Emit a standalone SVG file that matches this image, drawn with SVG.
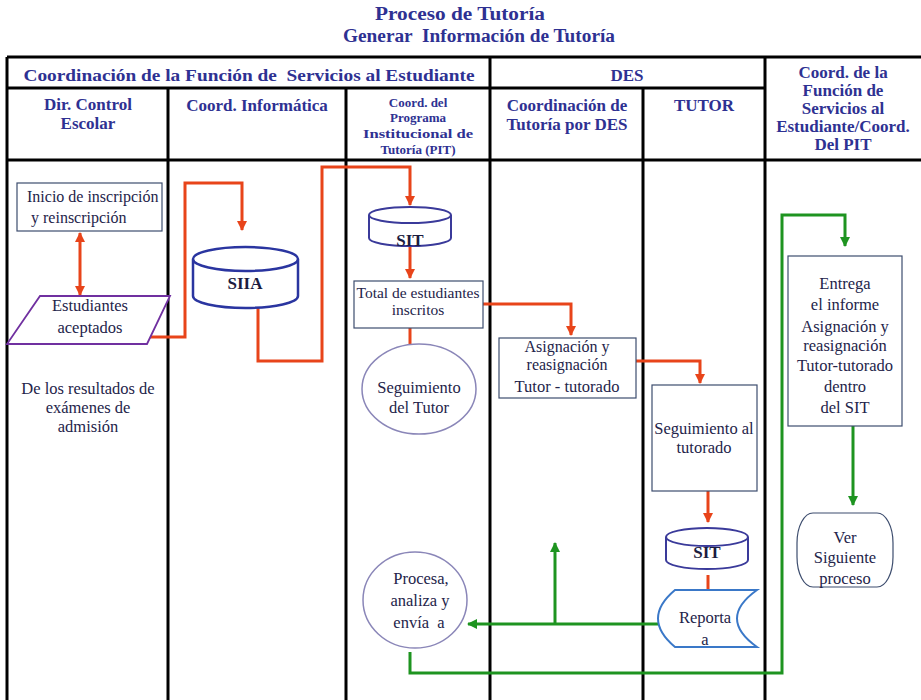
<svg xmlns="http://www.w3.org/2000/svg" width="921" height="700" viewBox="0 0 921 700">
<style>
.grid{stroke:#000;stroke-width:3;fill:none}
text{font-family:'Liberation Serif','DejaVu Serif','Noto Serif',serif}
.ttl{font-weight:bold;fill:#2E3192;text-anchor:middle}
.hd{font-weight:bold;fill:#2E3192;text-anchor:middle;font-size:17px}
.sm{font-size:13px}
.tx{fill:#24244a;font-size:16.5px;text-anchor:middle}
.box{fill:#fff;stroke:#3d4d6e;stroke-width:1.2}
.ell{fill:#fff;stroke:#8a86b8;stroke-width:1.5}
.cyl{fill:#fff;stroke:#2a35a0;stroke-width:2.5}
.red{stroke:#E8441A;stroke-width:3;fill:none}
.grn{stroke:#1E9420;stroke-width:3;fill:none}
.db{font-weight:bold;fill:#1c1c40;text-anchor:middle;font-size:17px}
</style>
<defs>
<marker id="ar" viewBox="0 0 10 10" refX="9" refY="5" markerWidth="10" markerHeight="10" markerUnits="userSpaceOnUse" orient="auto-start-reverse"><path d="M0,0 L10,5 L0,10 Z" fill="#E8441A"/></marker>
<marker id="ag" viewBox="0 0 10 10" refX="9" refY="5" markerWidth="10" markerHeight="10" markerUnits="userSpaceOnUse" orient="auto"><path d="M0,0 L10,5 L0,10 Z" fill="#1E9420"/></marker>
</defs>
<rect width="921" height="700" fill="#fff"/>
<g id="title">
<text class="ttl" x="460" y="20" font-size="18" textLength="170" lengthAdjust="spacingAndGlyphs">Proceso de Tutoría</text>
<text class="ttl" x="479" y="42" font-size="18" textLength="272" lengthAdjust="spacingAndGlyphs" xml:space="preserve">Generar  Información de Tutoría</text>
</g>
<g id="table">
<path class="grid" d="M7,57 H921 M7,88 H765 M7,160 H921 M7,57 V700 M168,88 V700 M346,88 V700 M490,57 V700 M643,88 V700 M765,57 V700"/>
<text class="hd" x="249" y="81" textLength="451" lengthAdjust="spacingAndGlyphs" xml:space="preserve">Coordinación de la Función de  Servicios al Estudiante</text>
<text class="hd" x="627" y="81">DES</text>
<text class="hd" x="843" y="78">Coord. de la</text>
<text class="hd" x="843" y="96">Función de</text>
<text class="hd" x="843" y="114">Servicios al</text>
<text class="hd" x="843" y="132">Estudiante/Coord.</text>
<text class="hd" x="843" y="150">Del PIT</text>
<text class="hd" x="88" y="110">Dir. Control</text>
<text class="hd" x="88" y="129">Escolar</text>
<text class="hd" x="257" y="111">Coord. Informática</text>
<text class="hd sm" x="418" y="107">Coord. del</text>
<text class="hd sm" x="418" y="122">Programa</text>
<text class="hd sm" x="418" y="138" textLength="110" lengthAdjust="spacingAndGlyphs">Institucional de</text>
<text class="hd sm" x="418" y="154">Tutoría (PIT)</text>
<text class="hd" x="567" y="111">Coordinación de</text>
<text class="hd" x="567" y="130">Tutoría por DES</text>
<text class="hd" x="704" y="111">TUTOR</text>
</g>
<g id="connectors">
<path class="red" d="M80,233 V295" marker-start="url(#ar)" marker-end="url(#ar)"/>
<path class="red" d="M147,337 H185 V183 H242 V230" marker-end="url(#ar)"/>
<path class="red" d="M258,308 V361 H322 V167 H410 V205" marker-end="url(#ar)"/>
<path class="red" d="M410,246 V278" marker-end="url(#ar)"/>
<path class="red" d="M483,304 H571 V335" marker-end="url(#ar)"/>
<path class="red" d="M410,328 V344"/>
<path class="red" d="M636,361 H700 V383" marker-end="url(#ar)"/>
<path class="red" d="M708,491 V522" marker-end="url(#ar)"/>
<path class="red" d="M708,575 V589"/>
<path class="grn" d="M658,624 H468" marker-end="url(#ag)"/>
<path class="grn" d="M555,624 V543" marker-end="url(#ag)"/>
<path class="grn" d="M410,652 V673 H782 V215 H845 V246" marker-end="url(#ag)"/>
<path class="grn" d="M853,426 V505" marker-end="url(#ag)"/>
</g>
<g id="inicio">
<rect class="box" x="17" y="183" width="145" height="48"/>
<text class="tx" x="27" y="202" style="text-anchor:start;font-size:16px">Inicio de inscripción</text>
<text class="tx" x="27" y="223" style="text-anchor:start;font-size:16px" xml:space="preserve"> y reinscripción</text>
</g>
<g id="estudiantes">
<polygon points="40,296 170,296 147,344 7,344" fill="#fff" stroke="#7030A0" stroke-width="1.8"/>
<text class="tx" x="90" y="311">Estudiantes</text>
<text class="tx" x="90" y="333">aceptados</text>
</g>
<g id="nota">
<text class="tx" x="88" y="394">De los resultados de</text>
<text class="tx" x="88" y="413">exámenes de</text>
<text class="tx" x="88" y="432">admisión</text>
</g>
<g id="siia">
<path class="cyl" d="M193,259 A52.5,12 0 0 1 298,259 V296 A52.5,12 0 0 1 193,296 Z M193,259 A52.5,12 0 0 0 298,259"/>
<text class="db" x="245" y="289">SIIA</text>
</g>
<g id="sit1">
<path class="cyl" style="stroke:#3a3a9a;stroke-width:2" d="M369,215 A41,8 0 0 1 451,215 V238 A41,8 0 0 1 369,238 Z M369,215 A41,8 0 0 0 451,215"/>
<text class="db" x="410" y="246">SIT</text>
</g>
<g id="total">
<rect class="box" x="354" y="281" width="129" height="47"/>
<text class="tx" x="418" y="298" style="font-size:15.5px">Total de estudiantes</text>
<text class="tx" x="418" y="315" style="font-size:15.5px">inscritos</text>
</g>
<g id="seg-tutor">
<ellipse class="ell" cx="419" cy="389" rx="57" ry="45"/>
<text class="tx" x="419" y="393">Seguimiento</text>
<text class="tx" x="419" y="413">del Tutor</text>
</g>
<g id="asignacion">
<rect class="box" x="499" y="338" width="137" height="60"/>
<text class="tx" x="567" y="352" style="font-size:16px">Asignación y</text>
<text class="tx" x="567" y="370" style="font-size:16px">reasignación</text>
<text class="tx" x="567" y="392">Tutor - tutorado</text>
</g>
<g id="seg-tutorado">
<rect class="box" x="652" y="385" width="105" height="106"/>
<text class="tx" x="704" y="434">Seguimiento al</text>
<text class="tx" x="704" y="453">tutorado</text>
</g>
<g id="sit2">
<path class="cyl" style="stroke:#3a3a9a;stroke-width:2" d="M666,537 A41,9 0 0 1 748,537 V560 A41,9 0 0 1 666,560 Z M666,537 A41,9 0 0 0 748,537"/>
<text class="db" x="707" y="558">SIT</text>
</g>
<g id="reporta">
<path d="M675,590 H757 Q717,618.5 757,647 H675 Q641,618.5 675,590 Z" fill="#fff" stroke="#3a78c8" stroke-width="2"/>
<text class="tx" x="705" y="623">Reporta</text>
<text class="tx" x="705" y="645">a</text>
</g>
<g id="procesa">
<ellipse class="ell" cx="415" cy="600" rx="52" ry="48"/>
<text class="tx" x="421" y="584">Procesa,</text>
<text class="tx" x="420" y="606">analiza y</text>
<text class="tx" x="419" y="628" xml:space="preserve">envía  a</text>
</g>
<g id="entrega">
<rect class="box" x="788" y="256" width="114" height="170"/>
<text class="tx" x="845" y="289">Entrega</text>
<text class="tx" x="845" y="310">el informe</text>
<text class="tx" x="845" y="332">Asignación y</text>
<text class="tx" x="845" y="351">reasignación</text>
<text class="tx" x="845" y="371">Tutor-tutorado</text>
<text class="tx" x="845" y="392">dentro</text>
<text class="tx" x="845" y="413">del SIT</text>
</g>
<g id="ver">
<rect class="box" x="797" y="513" width="96" height="74" rx="16" ry="30"/>
<text class="tx" x="845" y="543">Ver</text>
<text class="tx" x="845" y="563">Siguiente</text>
<text class="tx" x="845" y="584">proceso</text>
</g>
</svg>
